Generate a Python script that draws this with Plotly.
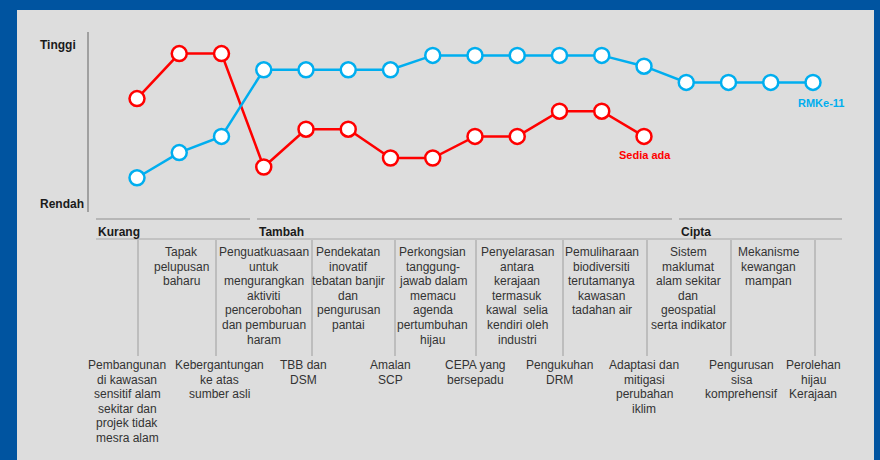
import plotly.graph_objects as go

# ---- data -------------------------------------------------------------
steps = list(range(17))
sedia_ada = [63, 88, 88, 25, 46, 46, 30, 30, 42, 42, 56, 56, 42]
rmke11 = [19, 33, 42, 79, 79, 79, 79, 87, 87, 87, 87, 87, 81, 72, 72, 72, 72]

groups = ["Kurang", "Tambah", "Cipta"]
axis_labels = ["Tinggi", "Rendah"]

upper_items = [
    "Tapak\npelupusan\nbaharu",
    "Penguatkuasaan\nuntuk\nmengurangkan\naktiviti\npencerobohan\ndan pemburuan\nharam",
    "Pendekatan\ninovatif\ntebatan banjir\ndan\npengurusan\npantai",
    "Perkongsian\ntanggung-\njawab dalam\nmemacu\nagenda\npertumbuhan\nhijau",
    "Penyelarasan\nantara\nkerajaan\ntermasuk\nkawal  selia\nkendiri oleh\nindustri",
    "Pemuliharaan\nbiodiversiti\nterutamanya\nkawasan\ntadahan air",
    "Sistem\nmaklumat\nalam sekitar\ndan\ngeospatial\nserta indikator",
    "Mekanisme\nkewangan\nmampan",
]
lower_items = [
    "Pembangunan\ndi kawasan\nsensitif alam\nsekitar dan\nprojek tidak\nmesra alam",
    "Kebergantungan\nke atas\nsumber asli",
    "TBB dan\nDSM",
    "Amalan\nSCP",
    "CEPA yang\nbersepadu",
    "Pengukuhan\nDRM",
    "Adaptasi dan\nmitigasi\nperubahan\niklim",
    "Pengurusan\nsisa\nkomprehensif",
    "Perolehan\nhijau\nKerajaan",
]

# ---- layout helpers (pixel -> paper) -----------------------------------
W, H = 880, 460
BLUE_FRAME = "#0054A0"
PANEL = "#DDDDDD"
RED = "#FF0000"
CYAN = "#00AEEF"
RULE = "#A8A8A8"
TEXT = "#333333"
DARK = "#1A1A1A"
FONT = "Liberation Sans, Arial, Helvetica, sans-serif"


def fx(x):
    return x / W


def fy(y):
    return 1 - y / H


# x axis: step i sits at pixel 137 + 42.25*i ; y axis: value v at pixel 212 - 1.8*v
STEP_PX, X0_PX = 42.25, 137
x_min = -X0_PX / STEP_PX
x_max = x_min + W / STEP_PX
Y_PX, Y0_PX = 1.8, 212
y_min = -(H - Y0_PX) / Y_PX
y_max = Y0_PX / Y_PX

fig = go.Figure()

fig.add_trace(go.Scatter(
    x=steps[:len(sedia_ada)], y=sedia_ada, mode="lines+markers", name="Sedia ada",
    line=dict(color=RED, width=2.5),
    marker=dict(size=15, color="white", line=dict(color=RED, width=2.5)),
    hoverinfo="skip",
))
fig.add_trace(go.Scatter(
    x=steps, y=rmke11, mode="lines+markers", name="RMKe-11",
    line=dict(color=CYAN, width=2.5),
    marker=dict(size=15, color="white", line=dict(color=CYAN, width=2.5)),
    hoverinfo="skip",
))

shapes = []
# grey panel
shapes.append(dict(type="rect", xref="paper", yref="paper", x0=fx(17), x1=fx(874),
                   y0=0, y1=fy(10), fillcolor=PANEL, line=dict(width=0), layer="below"))
# vertical scale line
shapes.append(dict(type="line", xref="paper", yref="paper", x0=fx(88), x1=fx(88),
                   y0=fy(32), y1=fy(212), line=dict(color="#A0A0A0", width=2)))
# group rules
for a, b in [(96, 250), (257, 672), (679, 842)]:
    shapes.append(dict(type="line", xref="paper", yref="paper", x0=fx(a), x1=fx(b),
                       y0=fy(219), y1=fy(219), line=dict(color=RULE, width=1.5)))
shapes.append(dict(type="line", xref="paper", yref="paper", x0=fx(96), x1=fx(842),
                   y0=fy(239), y1=fy(239), line=dict(color=RULE, width=1.2)))
# column dividers
for xd in [138, 216, 312, 395, 476, 563, 647, 731, 815]:
    shapes.append(dict(type="line", xref="paper", yref="paper", x0=fx(xd), x1=fx(xd),
                       y0=fy(240), y1=fy(356), line=dict(color=RULE, width=1.2)))

ann = []


def text_at(x_px, y_px, txt, size=12, color=TEXT, bold=False, xanchor="center"):
    t = f"<b>{txt}</b>" if bold else txt
    ann.append(dict(xref="paper", yref="paper", x=fx(x_px), y=fy(y_px), text=t,
                    showarrow=False, xanchor=xanchor, yanchor="middle",
                    font=dict(family=FONT, size=size, color=color)))


def block(x_px, y_first, label, gap=14.6):
    for k, line in enumerate(label.split("\n")):
        text_at(x_px, y_first + k * gap, line)


# axis end labels
text_at(38, 45, axis_labels[0], bold=True, color=DARK, xanchor="left")
text_at(38, 204, axis_labels[1], bold=True, color=DARK, xanchor="left")

# series labels
text_at(645, 155, "Sedia ada", size=11, bold=True, color=RED)
text_at(821, 103, "RMKe-11", size=11, bold=True, color=CYAN)

# group headers
for name, gx in zip(groups, [96, 257, 679]):
    text_at(gx, 232, name, bold=True, color=DARK, xanchor="left")

# table cells
upper_x = [X0_PX + STEP_PX * (2 * i + 1) for i in range(len(upper_items))]
upper_x[0] += 2
upper_x[6] += 2
upper_x[7] -= 2
for cx, lab in zip(upper_x, upper_items):
    block(cx, 252, lab)

lower_x = [X0_PX + STEP_PX * (2 * i) for i in range(len(lower_items))]
lower_x[0] -= 10
lower_x[1] -= 2
lower_x[2] -= 3
lower_x[7] += 13
for cx, lab in zip(lower_x, lower_items):
    block(cx, 365, lab)

fig.update_layout(
    width=W, height=H, autosize=False,
    margin=dict(l=0, r=0, t=0, b=0, pad=0),
    paper_bgcolor=BLUE_FRAME, plot_bgcolor="rgba(0,0,0,0)",
    showlegend=False,
    xaxis=dict(range=[x_min, x_max], visible=False, fixedrange=True),
    yaxis=dict(range=[y_min, y_max], visible=False, fixedrange=True),
    shapes=shapes, annotations=ann,
    font=dict(family=FONT, color=TEXT),
)

fig.write_html("out.html")
